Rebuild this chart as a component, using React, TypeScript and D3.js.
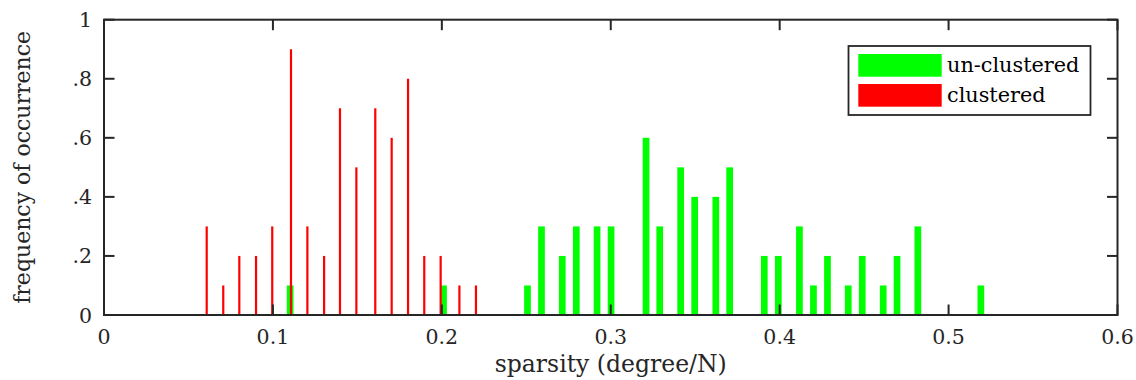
import React from "react";
import * as d3 from "d3";

const redX = [0.0608, 0.0706, 0.0801, 0.09, 0.0996, 0.1107, 0.1204, 0.1303, 0.1397, 0.1494, 0.1606, 0.1703, 0.18, 0.1896, 0.1993, 0.2104, 0.2202];
const redY = [0.3, 0.1, 0.2, 0.2, 0.3, 0.9, 0.3, 0.2, 0.7, 0.5, 0.7, 0.6, 0.8, 0.2, 0.2, 0.1, 0.1];
const greenX = [0.1102, 0.201, 0.2507, 0.259, 0.2713, 0.2796, 0.2919, 0.3002, 0.3209, 0.329, 0.3414, 0.3497, 0.3622, 0.3704, 0.3909, 0.3992, 0.4117, 0.42, 0.4283, 0.4406, 0.4489, 0.4613, 0.4695, 0.4818, 0.5191];
const greenY = [0.1, 0.1, 0.1, 0.3, 0.2, 0.3, 0.3, 0.3, 0.6, 0.3, 0.5, 0.4, 0.4, 0.5, 0.2, 0.2, 0.3, 0.1, 0.2, 0.1, 0.2, 0.1, 0.2, 0.3, 0.1];
const xTicks = [0, 0.1, 0.2, 0.3, 0.4, 0.5, 0.6];
const xTickLabels = ["0", "0.1", "0.2", "0.3", "0.4", "0.5", "0.6"];
const yTicks = [0, 0.2, 0.4, 0.6, 0.8, 1];
const yTickLabels = ["0", ".2", ".4", ".6", ".8", "1"];
const legendLabels = ["un-clustered", "clustered"];

const W = 1136;
const H = 380;
const L = 104, R = 1117.5, T = 19.7, B = 315;
const AX = "#262626";
const FONT = "DejaVu Serif";

export default function App() {
  const x = d3.scaleLinear().domain([0, 0.6]).range([L, R]);
  const y = d3.scaleLinear().domain([0, 1]).range([B, T]);
  const gw = 6.7, rw = 2.2, tl = 10.5;
  return (
    <svg width={W} height={H} style={{ position: "absolute", left: 0, top: 0, background: "#fff" }} fontFamily={FONT}>
      <rect x={0} y={0} width={W} height={H} fill="#fff" />
      {greenX.map((v, i) => (
        <rect key={"g" + i} x={x(v) - gw / 2} y={y(greenY[i])} width={gw} height={y(0) - y(greenY[i])} fill="#00ff00" />
      ))}
      {redX.map((v, i) => (
        <rect key={"r" + i} x={x(v) - rw / 2} y={y(redY[i])} width={rw} height={y(0) - y(redY[i])} fill="#ff0000" />
      ))}
      {xTicks.map((t, i) => (
        <g key={"xt" + i}>
          <line x1={x(t)} x2={x(t)} y1={B} y2={B - tl} stroke={AX} strokeWidth={2} />
          <line x1={x(t)} x2={x(t)} y1={T} y2={T + tl} stroke={AX} strokeWidth={2} />
          <text x={x(t)} y={344} textAnchor="middle" fontSize={20.5} fill={AX}>{xTickLabels[i]}</text>
        </g>
      ))}
      {yTicks.map((t, i) => (
        <g key={"yt" + i}>
          <line x1={L} x2={L + tl} y1={y(t)} y2={y(t)} stroke={AX} strokeWidth={2} />
          <line x1={R} x2={R - tl} y1={y(t)} y2={y(t)} stroke={AX} strokeWidth={2} />
          <text x={92} y={y(t) + 7.5} textAnchor="end" fontSize={20.5} fill={AX}>{yTickLabels[i]}</text>
        </g>
      ))}
      <rect x={L} y={T} width={R - L} height={B - T} fill="none" stroke={AX} strokeWidth={2} />
      <text x={(L + R) / 2} y={372} textAnchor="middle" fontSize={23.5} fill={AX}>sparsity (degree/N)</text>
      <text transform={`translate(30,${(T + B) / 2}) rotate(-90)`} textAnchor="middle" fontSize={22} fill={AX}>frequency of occurrence</text>
      <g>
        <rect x={848.5} y={46} width={242} height={69} fill="#fff" stroke={AX} strokeWidth={1.8} />
        <rect x={858.3} y={54} width={83.4} height={22.7} fill="#00ff00" />
        <rect x={858.3} y={84} width={83.4} height={22.7} fill="#ff0000" />
        <text x={947} y={72} fontSize={20.8} fill="#000">{legendLabels[0]}</text>
        <text x={947} y={102} fontSize={20.8} fill="#000">{legendLabels[1]}</text>
      </g>
    </svg>
  );
}
